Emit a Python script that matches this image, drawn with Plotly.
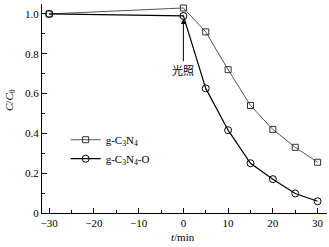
import plotly.graph_objects as go

t = [-30, 0, 5, 10, 15, 20, 25, 30]
gcn = [1.0, 1.03, 0.91, 0.72, 0.54, 0.42, 0.33, 0.255]
gcn_o = [1.0, 0.99, 0.626, 0.416, 0.25, 0.17, 0.098, 0.059]

serif = "Liberation Serif"
W, H = 329, 247
L, R, T, B = 42, 2, 4, 34

fig = go.Figure()
fig.add_trace(go.Scatter(x=t, y=gcn, mode="lines+markers", name="g-C<sub>3</sub>N<sub>4</sub>",
                         line=dict(color="#555555", width=1),
                         marker=dict(symbol="square-open", size=6, color="#333333", line=dict(width=1))))
fig.add_trace(go.Scatter(x=t, y=gcn_o, mode="lines+markers", name="g-C<sub>3</sub>N<sub>4</sub>-O",
                         line=dict(color="#000000", width=1.2),
                         marker=dict(symbol="circle-open", size=7, color="#000000", line=dict(width=1))))
fig.add_annotation(x=0, y=0.975, ax=0, ay=0.755, xref="x", yref="y", axref="x", ayref="y",
                   showarrow=True, arrowhead=2, arrowsize=1, arrowwidth=1, arrowcolor="#000", text="")
fig.add_annotation(x=0, y=0.72, xref="x", yref="y", text="光照", showarrow=False,
                   font=dict(family="Noto Sans CJK SC", size=11, color="#000"))

# axis titles as paper annotations
fig.add_annotation(x=(183 - L) / (W - L - R), y=-(237 - (H - B)) / (H - T - B), xref="paper", yref="paper",
                   text="<i>t</i>/min", showarrow=False, xanchor="center", yanchor="middle",
                   font=dict(family=serif, size=11))
fig.add_annotation(x=-(L - 10) / (W - L - R), y=((H - B) - 100) / (H - T - B), xref="paper", yref="paper",
                   text="<i>C</i>/<i>C</i><sub>0</sub>", showarrow=False, textangle=-90,
                   xanchor="center", yanchor="middle", font=dict(family=serif, size=11))

fig.update_layout(
    width=W, height=H, margin=dict(l=L, r=R, t=T, b=B, autoexpand=False),
    paper_bgcolor="white", plot_bgcolor="white",
    font=dict(family=serif, size=11, color="#000"),
    showlegend=True,
    legend=dict(x=0.083, y=0.42, xanchor="left", yanchor="top", bgcolor="rgba(0,0,0,0)",
                font=dict(family=serif, size=11), itemwidth=30),
    xaxis=dict(range=[-31.6, 32.1], tickvals=[-30, -20, -10, 0, 10, 20, 30],
               ticktext=["\u221230", "\u221220", "\u221210", "0", "10", "20", "30"],
               ticks="inside", ticklen=5, tickcolor="#000", showline=True, linecolor="#000", linewidth=1,
               showgrid=False, zeroline=False, automargin=False,
               minor=dict(ticks="inside", dtick=5, tick0=0, ticklen=3, tickcolor="#000")),
    yaxis=dict(range=[0, 1.05], tickvals=[0, 0.2, 0.4, 0.6, 0.8, 1.0],
               ticktext=["0", "0.2", "0.4", "0.6", "0.8", "1.0"],
               ticks="inside", ticklen=5, tickcolor="#000", showline=True, linecolor="#000", linewidth=1,
               showgrid=False, zeroline=False, automargin=False,
               minor=dict(ticks="inside", dtick=0.1, tick0=0, ticklen=3, tickcolor="#000")),
)
fig.write_html("out.html", config={"displayModeBar": False},
               post_script="document.body.style.margin='0';document.body.style.overflow='hidden';")
